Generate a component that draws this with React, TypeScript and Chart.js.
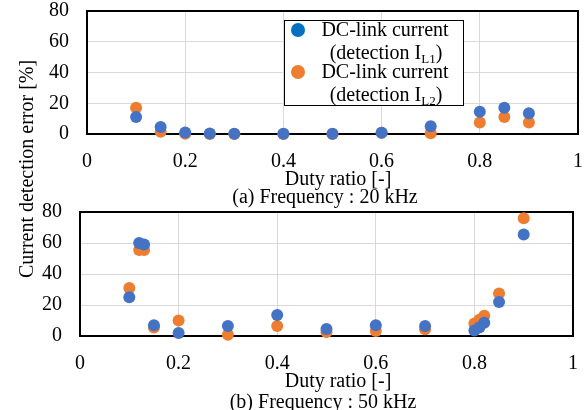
import React, { useEffect, useRef } from "react";
import { Chart, registerables } from "chart.js";

Chart.register(...registerables);

// ---- data ----
const xTicks = [0, 0.2, 0.4, 0.6, 0.8, 1];
const yTicks = [0, 20, 40, 60, 80];

const duty20 = [0.1, 0.15, 0.2, 0.25, 0.3, 0.4, 0.5, 0.6, 0.7, 0.8, 0.85, 0.9];
const errIL1_20 = [11, 4.5, 1, 0.3, 0.2, 0.2, 0.2, 0.8, 5, 14.5, 17, 13.5];
const errIL2_20 = [17, 1.5, 0.2, 0, 0, 0, 0, 0.8, 0.5, 7.5, 11, 7.5];

const duty50 = [0.1, 0.12, 0.13, 0.15, 0.2, 0.3, 0.4, 0.5, 0.6, 0.7, 0.8, 0.81, 0.82, 0.85, 0.9];
const errIL1_50 = [25, 60, 59, 7, 2, 6.5, 13.5, 4.5, 7, 6.5, 3.5, 5.5, 8.5, 22, 65.5];
const errIL2_50 = [31, 55.5, 55.5, 5.5, 10, 0.8, 6.5, 2.5, 3.3, 4.3, 8, 10.5, 13, 27.5, 76];

const legendLine1 = "DC-link current";
const legendLine2 = "(detection I";
const legendSubs = ["L1", "L2"];
const legendTail = ")";
const xTitle = "Duty ratio [-]";
const captions = ["(a) Frequency : 20 kHz", "(b) Frequency : 50 kHz"];
const yTitle = "Current detection error [%]";

const BLUE = "#4472C4";
const ORANGE = "#ED7D31";
const LEGEND_BLUE = "#0070C0";
const FONT = '"Liberation Serif", "Times New Roman", serif';

type PanelOpts = {
  duty: number[];
  il1: number[];
  il2: number[];
  yWidth: number;
  xHeight: number;
  padTop: number;
  padRight: number;
  xTitlePos: [number, number];
  captionPos: [number, number];
  caption: string;
  legend: boolean;
};

function drawSubLine(
  ctx: CanvasRenderingContext2D,
  cx: number,
  baseline: number,
  main: string,
  sub: string,
  tail: string
) {
  ctx.font = `20px ${FONT}`;
  const w1 = ctx.measureText(main).width;
  const w3 = ctx.measureText(tail).width;
  ctx.font = `13px ${FONT}`;
  const w2 = ctx.measureText(sub).width;
  let x = cx - (w1 + w2 + w3) / 2;
  ctx.textAlign = "left";
  ctx.textBaseline = "alphabetic";
  ctx.font = `20px ${FONT}`;
  ctx.fillText(main, x, baseline);
  x += w1;
  ctx.font = `13px ${FONT}`;
  ctx.fillText(sub, x, baseline + 4);
  x += w2;
  ctx.font = `20px ${FONT}`;
  ctx.fillText(tail, x, baseline);
}

function zeroPad(s: any) {
  s.paddingTop = 0;
  s.paddingBottom = 0;
  s.paddingLeft = 0;
  s.paddingRight = 0;
}

function makeConfig(o: PanelOpts): any {
  const tickFont = { family: FONT, size: 20, lineHeight: 1 };
  const boxPlugin = {
    id: "box",
    beforeDatasetsDraw(chart: any) {
      const { ctx, chartArea: a } = chart;
      ctx.save();
      ctx.strokeStyle = "#000";
      ctx.lineWidth = 2;
      ctx.strokeRect(a.left, a.top, a.right - a.left, a.bottom - a.top);
      ctx.restore();
    },
  };
  const textPlugin = {
    id: "texts",
    afterDraw(chart: any) {
      const ctx: CanvasRenderingContext2D = chart.ctx;
      ctx.save();
      ctx.fillStyle = "#000";
      ctx.font = `20px ${FONT}`;
      ctx.textAlign = "center";
      ctx.textBaseline = "middle";
      ctx.fillText(xTitle, o.xTitlePos[0], o.xTitlePos[1]);
      ctx.fillText(o.caption, o.captionPos[0], o.captionPos[1]);
      if (o.legend) {
        ctx.fillStyle = "#fff";
        ctx.fillRect(284, 20, 179, 85);
        ctx.strokeStyle = "#000";
        ctx.lineWidth = 1;
        ctx.strokeRect(284.5, 20.5, 179, 85);
        const colors = [LEGEND_BLUE, ORANGE];
        const ys = [30, 72];
        const base1 = [36, 78];
        const base2 = [59, 101];
        for (let i = 0; i < 2; i++) {
          ctx.fillStyle = colors[i];
          ctx.beginPath();
          ctx.arc(298, ys[i], 7, 0, Math.PI * 2);
          ctx.fill();
          ctx.fillStyle = "#000";
          ctx.font = `20px ${FONT}`;
          ctx.textAlign = "center";
          ctx.textBaseline = "alphabetic";
          ctx.fillText(legendLine1, 385, base1[i]);
          drawSubLine(ctx, 386, base2[i], legendLine2, legendSubs[i], legendTail);
        }
      }
      ctx.restore();
    },
  };
  return {
    type: "scatter",
    data: {
      datasets: [
        {
          label: legendLine1 + " " + legendLine2 + legendSubs[0] + legendTail,
          data: o.duty.map((x, i) => ({ x, y: o.il1[i] })),
          backgroundColor: BLUE,
          borderWidth: 0,
          pointRadius: 6,
          pointHoverRadius: 6,
          clip: false,
        },
        {
          label: legendLine1 + " " + legendLine2 + legendSubs[1] + legendTail,
          data: o.duty.map((x, i) => ({ x, y: o.il2[i] })),
          backgroundColor: ORANGE,
          borderWidth: 0,
          pointRadius: 6,
          pointHoverRadius: 6,
          clip: false,
        },
      ],
    },
    options: {
      responsive: false,
      animation: false,
      devicePixelRatio: 1,
      layout: {
        autoPadding: false,
        padding: { left: 0, top: o.padTop, right: o.padRight, bottom: 0 },
      },
      plugins: { legend: { display: false }, tooltip: { enabled: false } },
      events: [],
      scales: {
        x: {
          type: "linear",
          min: 0,
          max: 1,
          afterBuildTicks: (s: any) => {
            s.ticks = xTicks.map((v) => ({ value: v }));
          },
          afterFit: (s: any) => {
            s.height = o.xHeight;
            zeroPad(s);
          },
          ticks: {
            font: tickFont,
            color: "#000",
            padding: 18,
            maxRotation: 0,
            autoSkip: false,
            callback: (v: any) => String(v),
          },
          grid: { color: "#D9D9D9", lineWidth: 1, drawTicks: false },
          border: { display: false },
        },
        y: {
          type: "linear",
          min: 0,
          max: 80,
          afterBuildTicks: (s: any) => {
            s.ticks = yTicks.map((v) => ({ value: v }));
          },
          afterFit: (s: any) => {
            s.width = o.yWidth;
            zeroPad(s);
          },
          ticks: {
            font: tickFont,
            color: "#000",
            padding: 18,
            callback: (v: any) => String(v),
          },
          grid: { color: "#D9D9D9", lineWidth: 1, drawTicks: false },
          border: { display: false },
        },
      },
    },
    plugins: [boxPlugin, textPlugin],
  };
}

export default function App() {
  const topRef = useRef<HTMLCanvasElement>(null);
  const botRef = useRef<HTMLCanvasElement>(null);

  useEffect(() => {
    const c1 = new Chart(
      topRef.current!,
      makeConfig({
        duty: duty20,
        il1: errIL1_20,
        il2: errIL2_20,
        yWidth: 87,
        xHeight: 76,
        padTop: 11,
        padRight: 9,
        xTitlePos: [338, 180],
        captionPos: [325, 198],
        caption: captions[0],
        legend: true,
      })
    );
    const c2 = new Chart(
      botRef.current!,
      makeConfig({
        duty: duty50,
        il1: errIL1_50,
        il2: errIL2_50,
        yWidth: 80,
        xHeight: 74,
        padTop: 12,
        padRight: 14,
        xTitlePos: [338, 182],
        captionPos: [323, 203],
        caption: captions[1],
        legend: false,
      })
    );
    return () => {
      c1.destroy();
      c2.destroy();
    };
  }, []);

  return (
    <div
      style={{
        position: "absolute",
        left: 0,
        top: 0,
        width: 587,
        height: 410,
        background: "#fff",
        overflow: "hidden",
      }}
    >
      <canvas
        ref={topRef}
        width={587}
        height={210}
        style={{ position: "absolute", left: 0, top: 0, width: 587, height: 210 }}
      />
      <canvas
        ref={botRef}
        width={587}
        height={210}
        style={{ position: "absolute", left: 0, top: 200, width: 587, height: 210 }}
      />
      <div
        style={{
          position: "absolute",
          left: 26 - 120,
          top: 169 - 12,
          width: 240,
          height: 24,
          lineHeight: "24px",
          textAlign: "center",
          fontFamily: FONT,
          fontSize: 20,
          color: "#000",
          transform: "rotate(-90deg)",
          transformOrigin: "50% 50%",
          whiteSpace: "nowrap",
        }}
      >
        {yTitle}
      </div>
    </div>
  );
}
